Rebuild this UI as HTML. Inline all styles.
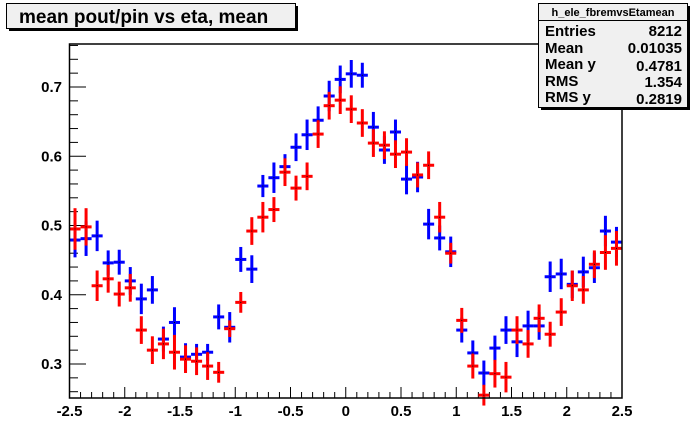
<!DOCTYPE html>
<html><head><meta charset="utf-8"><style>
body{margin:0;background:#fff;}
svg{display:block;font-family:"Liberation Sans",Arial,sans-serif;}
</style></head><body>
<svg id="c" width="692" height="444" viewBox="0 0 692 444">
<rect width="692" height="444" fill="#fff"/>
<g id="axes"></g>
<g id="blue"></g>
<g id="red"></g>
<rect x="69.5" y="44" width="552.5" height="354" fill="none" stroke="#000" stroke-width="1.5"/>
<g>
<rect x="9" y="6" width="289" height="25" fill="#000"/>
<rect x="6.5" y="3.5" width="289" height="25" fill="#f0f0f0" stroke="#000" stroke-width="1"/>
<text x="19" y="23" font-size="19" font-weight="bold">mean pout/pin vs eta, mean</text>
</g>
<g>
<rect x="541" y="6" width="149" height="104" fill="#000"/>
<rect x="538.5" y="3.5" width="149" height="104" fill="#f0f0f0" stroke="#000" stroke-width="1"/>
<line x1="538.5" y1="20.5" x2="687.5" y2="20.5" stroke="#000"/>
<text x="613" y="16" font-size="11" font-weight="bold" text-anchor="middle">h_ele_fbremvsEtamean</text>
<g font-size="15" font-weight="bold">
<text x="545" y="36">Entries</text><text x="682" y="36" text-anchor="end">8212</text>
<text x="545" y="53">Mean</text><text x="682" y="53" text-anchor="end">0.01035</text>
<text x="545" y="69">Mean y</text><text x="682" y="71" text-anchor="end">0.4781</text>
<text x="545" y="86">RMS</text><text x="682" y="87" text-anchor="end">1.354</text>
<text x="545" y="102">RMS y</text><text x="682" y="104" text-anchor="end">0.2819</text>
</g>
</g>
</svg>
<script>
const xTicks=[-2.5,-2,-1.5,-1,-0.5,0,0.5,1,1.5,2,2.5];
const xTickLabels=["-2.5","-2","-1.5","-1","-0.5","0","0.5","1","1.5","2","2.5"];
const yTicks=[0.3,0.4,0.5,0.6,0.7];
const yTickLabels=["0.3","0.4","0.5","0.6","0.7"];
const blueVals=[0.479,0.481,0.485,0.446,0.447,0.420,0.394,0.407,0.336,0.360,0.310,0.314,0.317,0.368,0.353,0.451,0.437,0.557,0.569,0.585,0.613,0.631,0.652,0.687,0.711,0.719,0.717,0.642,0.609,0.635,0.567,0.570,0.502,0.482,0.462,0.349,0.316,0.287,0.323,0.349,0.332,0.355,0.355,0.426,0.430,0.415,0.433,0.439,0.492,0.476];
const redVals=[0.495,0.498,0.413,0.423,0.401,0.410,0.349,0.320,0.329,0.317,0.307,0.304,0.297,0.288,0.351,0.389,0.492,0.512,0.523,0.577,0.554,0.571,0.632,0.673,0.681,0.668,0.648,0.619,0.616,0.603,0.606,0.573,0.587,0.512,0.460,0.363,0.297,0.255,0.286,0.281,0.349,0.329,0.366,0.343,0.375,0.413,0.407,0.444,0.461,0.467];
const blueErr=[0.025,0.025,0.022,0.018,0.018,0.02,0.022,0.02,0.018,0.022,0.02,0.015,0.012,0.018,0.022,0.018,0.02,0.016,0.022,0.018,0.02,0.022,0.02,0.022,0.02,0.02,0.018,0.022,0.02,0.018,0.022,0.022,0.022,0.018,0.022,0.018,0.018,0.018,0.018,0.02,0.022,0.022,0.02,0.022,0.022,0.02,0.022,0.022,0.022,0.022];
const redErr=[0.03,0.027,0.022,0.02,0.018,0.02,0.02,0.02,0.022,0.025,0.02,0.02,0.02,0.015,0.012,0.015,0.02,0.022,0.018,0.02,0.018,0.02,0.02,0.02,0.02,0.02,0.02,0.02,0.02,0.02,0.02,0.018,0.02,0.022,0.015,0.018,0.018,0.015,0.02,0.022,0.02,0.02,0.02,0.018,0.02,0.022,0.02,0.02,0.025,0.025];
const xMin=-2.5,xMax=2.5,binW=0.1;
const X=v=>69.5+(v-xMin)/(xMax-xMin)*552.5;
const Y=v=>87-(v-0.7)*692.5;
const NS="http://www.w3.org/2000/svg";
function mk(tag,attrs,parent){const e=document.createElementNS(NS,tag);for(const k in attrs)e.setAttribute(k,attrs[k]);parent.appendChild(e);return e;}
const ax=document.getElementById('axes');
// minor x ticks
for(let i=0;i<=50;i++){const v=xMin+i*binW;const major=Math.abs(v*2-Math.round(v*2))<1e-6;
 const t=mk('line',{x1:X(v),x2:X(v),y1:398,y2:major?387:392,stroke:'#000','stroke-width':1},ax);
 
 }
xTicks.forEach((v,i)=>{const t=mk('text',{x:X(v),y:416,'font-size':15,'font-weight':'bold','text-anchor':'middle'},ax);t.textContent=xTickLabels[i];
 
 });
for(let v=0.26;v<=0.761;v+=0.02){const major=Math.abs(v*10-Math.round(v*10))<1e-6;
 const t=mk('line',{x1:69.5,x2:major?86:78,y1:Y(v),y2:Y(v),stroke:'#000','stroke-width':1},ax);
 
 }
yTicks.forEach((v,i)=>{const t=mk('text',{x:62,y:Y(v)+5,'font-size':15,'font-weight':'bold','text-anchor':'end'},ax);t.textContent=yTickLabels[i];
 
 });
function draw(gid,vals,errs,color,name){const g=document.getElementById(gid);
 vals.forEach((v,i)=>{const c=xMin+(i+0.5)*binW;const cx=X(c);
  const grp=mk('g',{},g);
  
  
  mk('line',{x1:X(c-binW/2),x2:X(c+binW/2),y1:Y(v),y2:Y(v),stroke:color,'stroke-width':3},grp);
  mk('line',{x1:cx,x2:cx,y1:Y(v+errs[i]),y2:Y(v-errs[i]),stroke:color,'stroke-width':3},grp);
  mk('rect',{x:cx-0.5,y:Y(v)-0.5,width:1,height:1,fill:'#000'},grp);
 });}
draw('blue',blueVals,blueErr,'#0000ff','blue');
draw('red',redVals,redErr,'#ff0000','red');
</script>
</body></html>
